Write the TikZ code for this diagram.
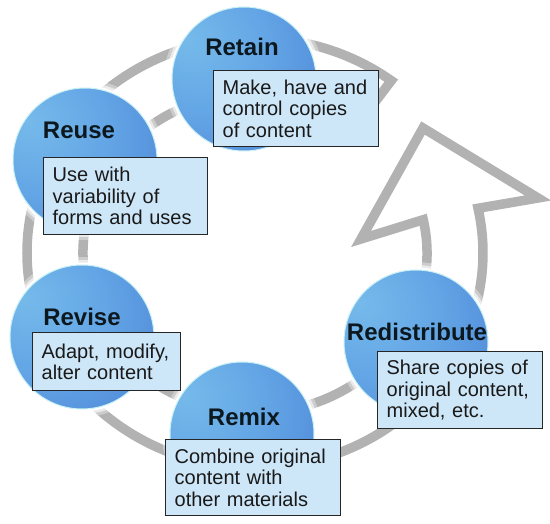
\documentclass[tikz,border=0pt]{standalone}
\usepackage{fontspec}
\setmainfont{Liberation Sans}
\definecolor{ringgray}{RGB}{178,178,178}
\definecolor{boxfill}{RGB}{206,231,248}
\definecolor{titlecol}{RGB}{12,24,30}
\definecolor{rimcol}{RGB}{200,240,245}
\pgfdeclareradialshading{spherefill}{\pgfpoint{-20bp}{14bp}}{rgb(0bp)=(0.46,0.73,0.92); rgb(22bp)=(0.39,0.65,0.90); rgb(48bp)=(0.30,0.52,0.84); rgb(64bp)=(0.34,0.43,0.80); rgb(82bp)=(0.40,0.40,0.78)}
\begin{document}
\begin{tikzpicture}[x=1pt,y=-1pt,
  ring/.style={draw=ringgray, line width=9.5pt, fill=white, line join=miter},
  ballnode/.style={circle, minimum size=144pt, inner sep=0pt, shading=spherefill, draw=rimcol, line width=1pt},
  ttl/.style={font=\fontsize{24}{28}\selectfont\bfseries, text=titlecol, inner sep=0pt},
  infobox/.style={draw=black!85, line width=1.3pt, fill=boxfill, anchor=north west, align=left, inner xsep=9pt, inner ysep=0pt, font=\fontsize{20}{21.5}\selectfont, text=black!90}
]
\useasboundingbox (0,0) rectangle (550,524);

% circular arrow band
\draw[ring] ([shift={(255,253)}]-53.3:228 and 215) coordinate (tailO)
  arc[start angle=-53.3, end angle=-372, x radius=228, y radius=215]
  -- (538,198) coordinate (barbR)
  -- (423,128) coordinate (tip)
  -- (361,239) coordinate (barbL)
  -- ([shift={(255,253)}]-12:172 and 160)
  arc[start angle=-372, end angle=-53.3, x radius=172, y radius=160]
  -- cycle;

% halos
\foreach \cx/\cy in {244/79, 85/160, 82/337, 242/434, 416/342}{
  \fill[white, opacity=0.35] (\cx,\cy) circle[radius=80];
  \fill[white, opacity=0.6] (\cx,\cy) circle[radius=77];
  \fill[white] (\cx,\cy) circle[radius=74.5];
}

% spheres
\node[ballnode] (retain) at (244,79) {};
\node[ballnode] (reuse) at (85,160) {};
\node[ballnode] (revise) at (82,337) {};
\node[ballnode] (remix) at (242,434) {};
\node[ballnode] (redist) at (416,342) {};

% titles
\node[ttl] (retainT) at (242,47) {Retain};
\node[ttl] (reuseT) at (79,130) {Reuse};
\node[ttl] (reviseT) at (82,317) {Revise};
\node[ttl] (remixT) at (244,417) {Remix};
\node[ttl] (redistT) at (417,332) {Redistribute};

% boxes
\node[infobox, minimum height=76pt, text width=147pt] (retainB) at (213,70) {Make, have and\\control copies\\of content};
\node[infobox, minimum height=77pt, text width=146pt] (reuseB) at (43,157) {Use with\\variability of\\forms and uses};
\node[infobox, minimum height=58pt, text width=130pt] (reviseB) at (32,332) {Adapt, modify,\\alter content};
\node[infobox, minimum height=76pt, text width=157pt] (remixB) at (165,439) {Combine original\\content with\\other materials};
\node[infobox, minimum height=77pt, text width=147pt] (redistB) at (377,351) {Share copies of\\original content,\\mixed, etc.};
\end{tikzpicture}
\end{document}
